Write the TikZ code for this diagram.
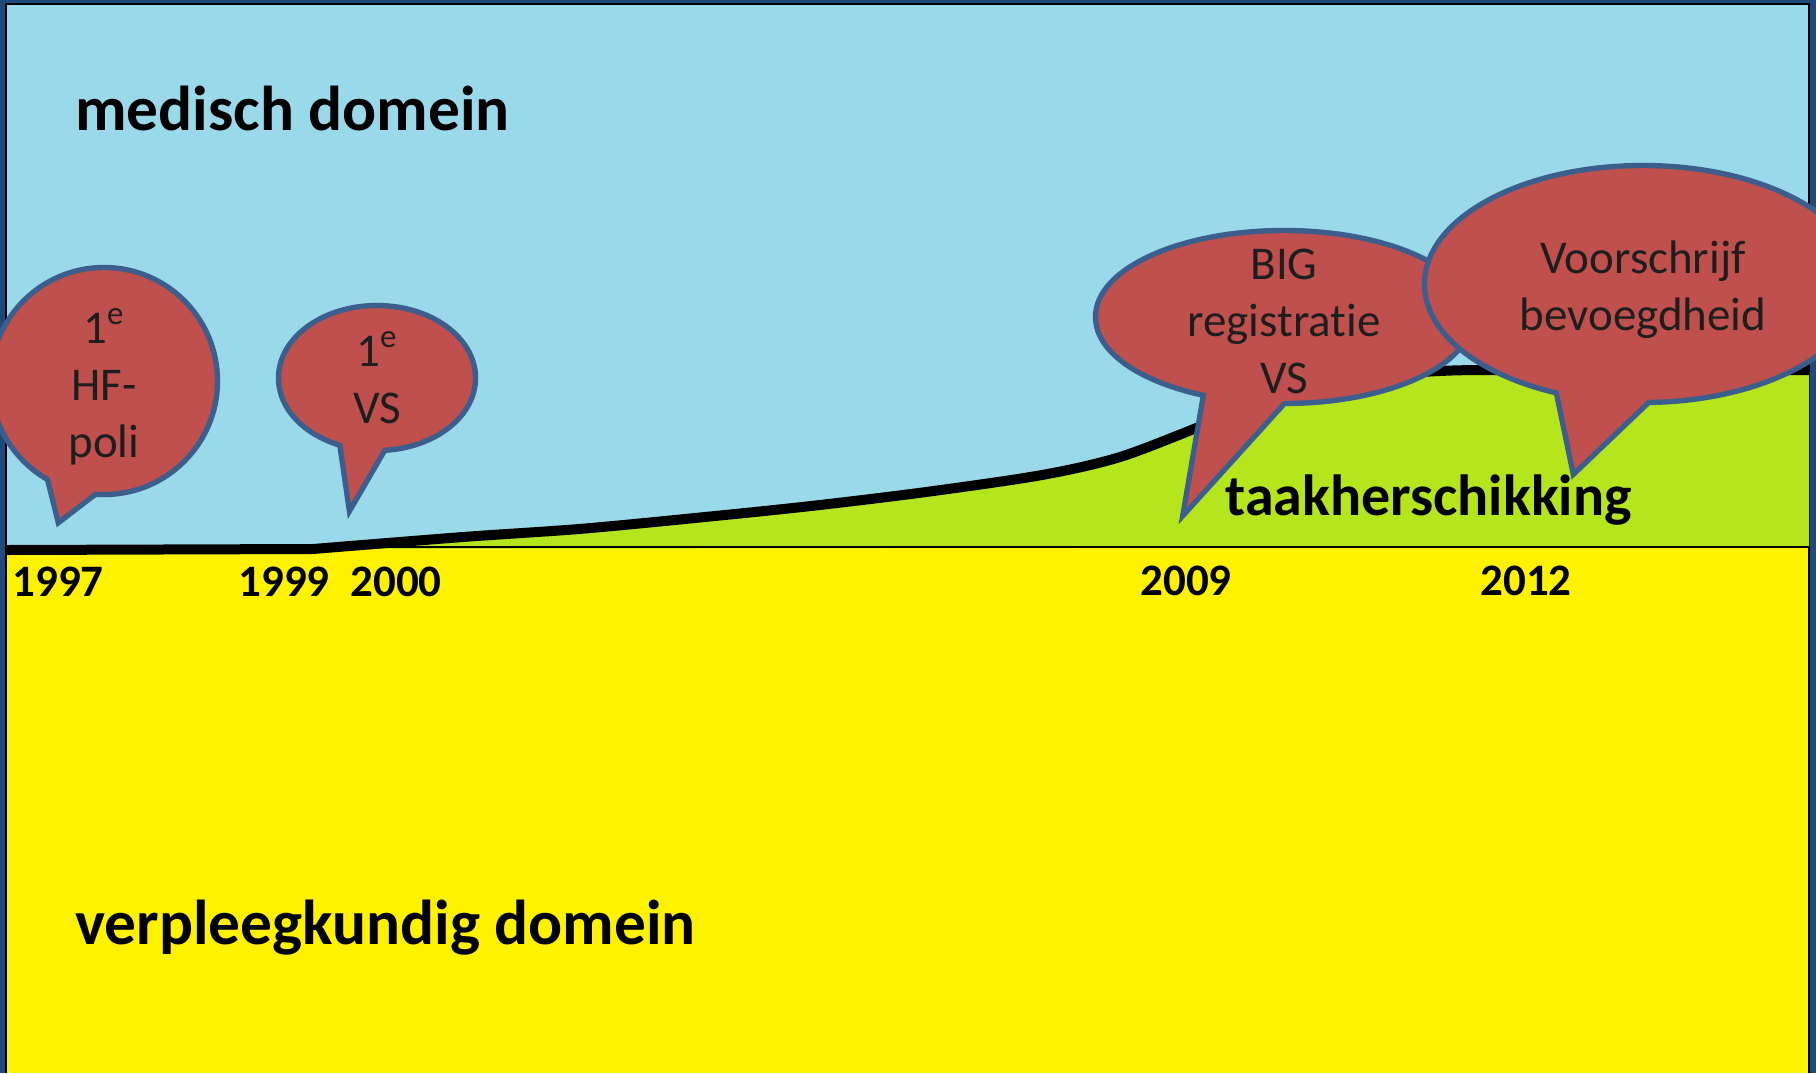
\documentclass[tikz,border=0pt]{standalone}
\usepackage{fontspec}
\setmainfont{Carlito}[Ligatures=NoCommon]
\usetikzlibrary{calc}
\definecolor{skyblue}{RGB}{153,217,234}
\definecolor{limegreen}{RGB}{181,230,29}
\definecolor{yel}{RGB}{255,242,0}
\definecolor{navyframe}{RGB}{31,73,125}
\definecolor{balfill}{RGB}{192,80,77}
\definecolor{balline}{RGB}{59,94,140}
\definecolor{baltext}{RGB}{30,30,30}
\begin{document}
\begin{tikzpicture}[x=0.5pt,y=-0.5pt,
  balloonfill/.style={fill=balfill},
  balloonedge/.style={draw=balline, line width=5.4pt, line join=miter},
  baltxt/.style={text=baltext, font=\fontsize{23.5}{28.5}\selectfont, align=center, inner sep=0pt, anchor=base},
  domlbl/.style={font=\bfseries\fontsize{31.7}{36}\selectfont, inner sep=0pt, anchor=base west},
  tasklbl/.style={font=\bfseries\fontsize{29}{34}\selectfont, inner sep=0pt, anchor=base west},
  yearlbl/.style={font=\bfseries\fontsize{22.5}{26}\selectfont, inner sep=0pt, anchor=base west}]
\useasboundingbox (0,0) rectangle (1816,1073);
% frame and domains
\fill[navyframe] (0,0) rectangle (1816,1073);
\fill[skyblue] (6,4) rectangle (1809,548);
\fill[yel] (6,548) rectangle (1809,1073);
\draw[black, line width=1pt] (6,1073) -- (6,4) -- (1809,4) -- (1809,1073);
% green area under curve
\fill[limegreen] plot[smooth] coordinates {(313,549) (463,537) (579,529) (695,518) (811,506) (926,492) (1042,475) (1120,457) (1204,425) (1280,395) (1350,378) (1440,371) (1520,370) (1809,370)} -- (1809,547) -- cycle;
% divider
\draw[black, line width=1.2pt] (6,547) -- (1809,547);
% curve
\draw[black, line width=5pt] (6,550) -- plot[smooth] coordinates {(313,549) (463,537) (579,529) (695,518) (811,506) (926,492) (1042,475) (1120,457) (1204,425) (1280,395) (1350,378) (1440,371) (1520,370) (1809,370)};
% balloon 1: 1e HF-poli
\coordinate (hfC) at (104,381);
\coordinate (hfT) at (60,518);
\coordinate (hfL) at (50,478);
\coordinate (hfR) at (90,495);
\path[balloonedge] (hfC) ellipse [x radius=55.4pt, y radius=55.4pt];
\path[balloonedge] (hfT) -- ($(hfT)!1.8!(hfL)$) -- ($(hfT)!1.8!(hfR)$) -- cycle;
\path[balloonfill] (hfC) ellipse [x radius=55.4pt, y radius=55.4pt];
\path[balloonfill] (hfT) -- ($(hfT)!1.8!(hfL)$) -- ($(hfT)!1.8!(hfR)$) -- cycle;
\node[baltxt] (hftext) at (104,457) {1\textsuperscript{e}\\HF-\\poli};
% balloon 2: 1e VS
\coordinate (vsC) at (377,378);
\coordinate (vsT) at (351,503);
\coordinate (vsL) at (343,448);
\coordinate (vsR) at (380,453);
\path[balloonedge] (vsC) ellipse [x radius=47.9pt, y radius=34.9pt];
\path[balloonedge] (vsT) -- ($(vsT)!1.8!(vsL)$) -- ($(vsT)!1.8!(vsR)$) -- cycle;
\path[balloonfill] (vsC) ellipse [x radius=47.9pt, y radius=34.9pt];
\path[balloonfill] (vsT) -- ($(vsT)!1.8!(vsL)$) -- ($(vsT)!1.8!(vsR)$) -- cycle;
\node[baltxt] (vstext) at (377,423) {1\textsuperscript{e}\\VS};
% balloon 3: BIG registratie VS
\coordinate (bigC) at (1284,317);
\coordinate (bigT) at (1187,507);
\coordinate (bigL) at (1205,402);
\coordinate (bigR) at (1273,412);
\path[balloonedge] (bigC) ellipse [x radius=92.9pt, y radius=41.9pt];
\path[balloonedge] (bigT) -- ($(bigT)!1.8!(bigL)$) -- ($(bigT)!1.8!(bigR)$) -- cycle;
\path[balloonfill] (bigC) ellipse [x radius=92.9pt, y radius=41.9pt];
\path[balloonfill] (bigT) -- ($(bigT)!1.8!(bigL)$) -- ($(bigT)!1.8!(bigR)$) -- cycle;
\node[baltxt] (bigtext) at (1284,393) {BIG\\registratie\\VS};
% balloon 4: Voorschrijf bevoegdheid
\coordinate (vbC) at (1643,284);
\coordinate (vbT) at (1575,469);
\coordinate (vbL) at (1560,397);
\coordinate (vbR) at (1642,405);
\path[balloonedge] (vbC) ellipse [x radius=107.9pt, y radius=57.9pt];
\path[balloonedge] (vbT) -- ($(vbT)!1.8!(vbL)$) -- ($(vbT)!1.8!(vbR)$) -- cycle;
\path[balloonfill] (vbC) ellipse [x radius=107.9pt, y radius=57.9pt];
\path[balloonfill] (vbT) -- ($(vbT)!1.8!(vbL)$) -- ($(vbT)!1.8!(vbR)$) -- cycle;
\node[baltxt] (vbtext) at (1643,330) {Voorschrijf\\bevoegdheid};
% labels
\node[domlbl] (med) at (75,130) {medisch domein};
\node[domlbl] (verpl) at (75,944) {verpleegkundig domein};
\node[tasklbl] (taak) at (1225,515) {taakherschikking};
\node[yearlbl] (y1997) at (12,596) {1997};
\node[yearlbl] (y1999) at (238,596) {1999};
\node[yearlbl] (y2000) at (350,596) {2000};
\node[yearlbl] (y2009) at (1140,595) {2009};
\node[yearlbl] (y2012) at (1480,595) {2012};
\end{tikzpicture}
\end{document}
